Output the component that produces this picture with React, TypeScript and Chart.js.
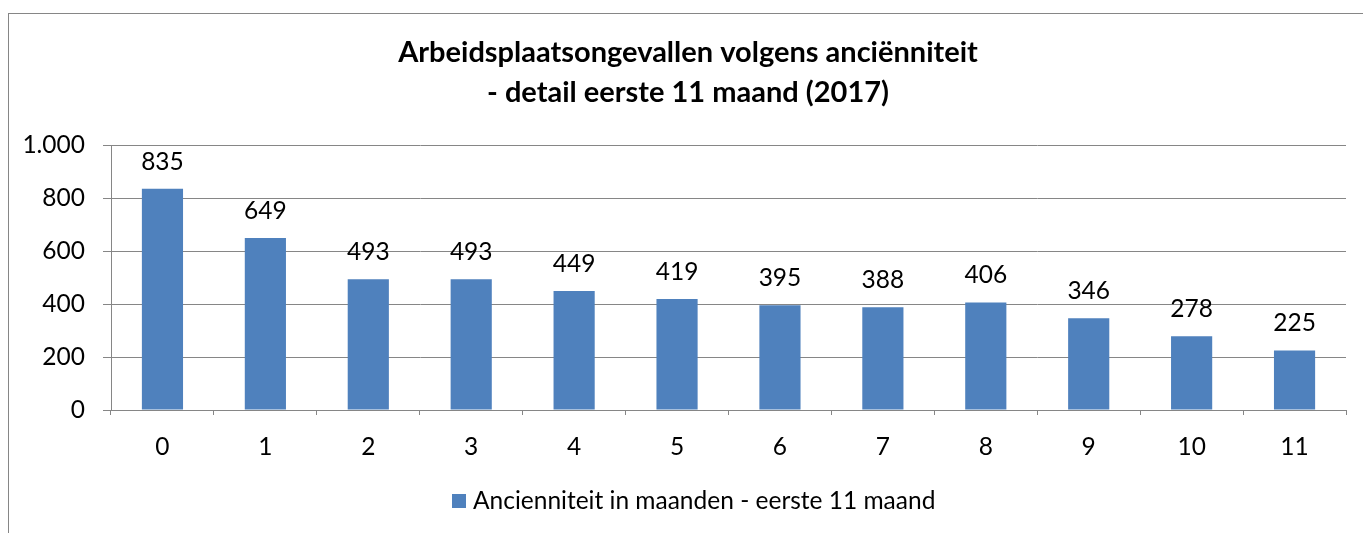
import React, { useEffect, useRef } from "react";
import { Chart, registerables } from "chart.js";

Chart.register(...registerables);

const categories = ["0", "1", "2", "3", "4", "5", "6", "7", "8", "9", "10", "11"];
const values = [835, 649, 493, 493, 449, 419, 395, 388, 406, 346, 278, 225];
const seriesLabel = "Ancienniteit in maanden - eerste 11 maand";
const titleLines = ["Arbeidsplaatsongevallen volgens anciënniteit", "- detail eerste 11 maand (2017)"];

const FONT = "Lato, 'Open Sans', sans-serif";
const GRID = "#868686";
const BAR = "#4F81BD";
const TXT = 24.5;

const fmt = (v: number) => {
  const s = Math.round(v).toString();
  return s.replace(/\B(?=(\d{3})+(?!\d))/g, ".");
};

const decorPlugin = {
  id: "decor",
  beforeDraw(chart: any) {
    const ctx = chart.ctx;
    ctx.save();
    ctx.strokeStyle = GRID;
    ctx.lineWidth = 1;
    ctx.strokeRect(8.5, 13.5, 1500, 700);
    ctx.restore();
  },
  afterDraw(chart: any) {
    const ctx = chart.ctx;
    ctx.save();
    // title
    ctx.fillStyle = "#000";
    ctx.textAlign = "center";
    ctx.textBaseline = "alphabetic";
    ctx.font = `bold 29px ${FONT}`;
    ctx.fillText(titleLines[0], 688, 62);
    ctx.fillText(titleLines[1], 688, 102);
    // data labels
    const meta = chart.getDatasetMeta(0);
    ctx.font = `${TXT}px ${FONT}`;
    meta.data.forEach((bar: any, i: number) => {
      ctx.fillText(fmt(values[i]), bar.x, bar.y - 19);
    });
    // legend
    ctx.fillStyle = BAR;
    ctx.fillRect(452, 494, 14, 14);
    ctx.fillStyle = "#000";
    ctx.textAlign = "left";
    ctx.font = `${TXT}px ${FONT}`;
    ctx.fillText(seriesLabel, 473, 509);
    ctx.restore();
  },
};

export default function App() {
  const ref = useRef<HTMLCanvasElement>(null);
  useEffect(() => {
    if (!ref.current) return;
    const chart = new Chart(ref.current, {
      type: "bar",
      data: {
        labels: categories,
        datasets: [
          {
            label: seriesLabel,
            data: values,
            backgroundColor: BAR,
            borderWidth: 0,
            barPercentage: 0.4,
            categoryPercentage: 1,
          },
        ],
      },
      options: {
        animation: false,
        responsive: false,
        maintainAspectRatio: false,
        layout: { padding: { left: 0, right: 17, top: 145, bottom: 63 } },
        plugins: {
          legend: { display: false },
          title: { display: false },
          tooltip: { enabled: false },
        },
        scales: {
          x: {
            afterFit: (s: any) => {
              s.height = 60;
            },
            grid: {
              offset: true,
              drawOnChartArea: false,
              drawTicks: true,
              tickLength: 5,
              color: GRID,
            },
            border: { color: GRID, width: 1 },
            ticks: { color: "#000", font: { family: FONT, size: TXT }, padding: 17 },
          },
          y: {
            min: 0,
            max: 1000,
            afterFit: (s: any) => {
              s.width = 111;
            },
            grid: { color: GRID, tickLength: 8, drawTicks: true },
            border: { color: GRID, width: 1 },
            ticks: {
              stepSize: 200,
              color: "#000",
              font: { family: FONT, size: TXT },
              padding: 18,
              callback: (v: any) => fmt(Number(v)),
            },
          },
        },
      },
      plugins: [decorPlugin],
    });
    return () => chart.destroy();
  }, []);
  return (
    <div style={{ position: "fixed", left: 0, top: 0, width: 1363, height: 533, background: "#fff" }}>
      <canvas ref={ref} width={1363} height={533} style={{ display: "block" }} />
    </div>
  );
}
